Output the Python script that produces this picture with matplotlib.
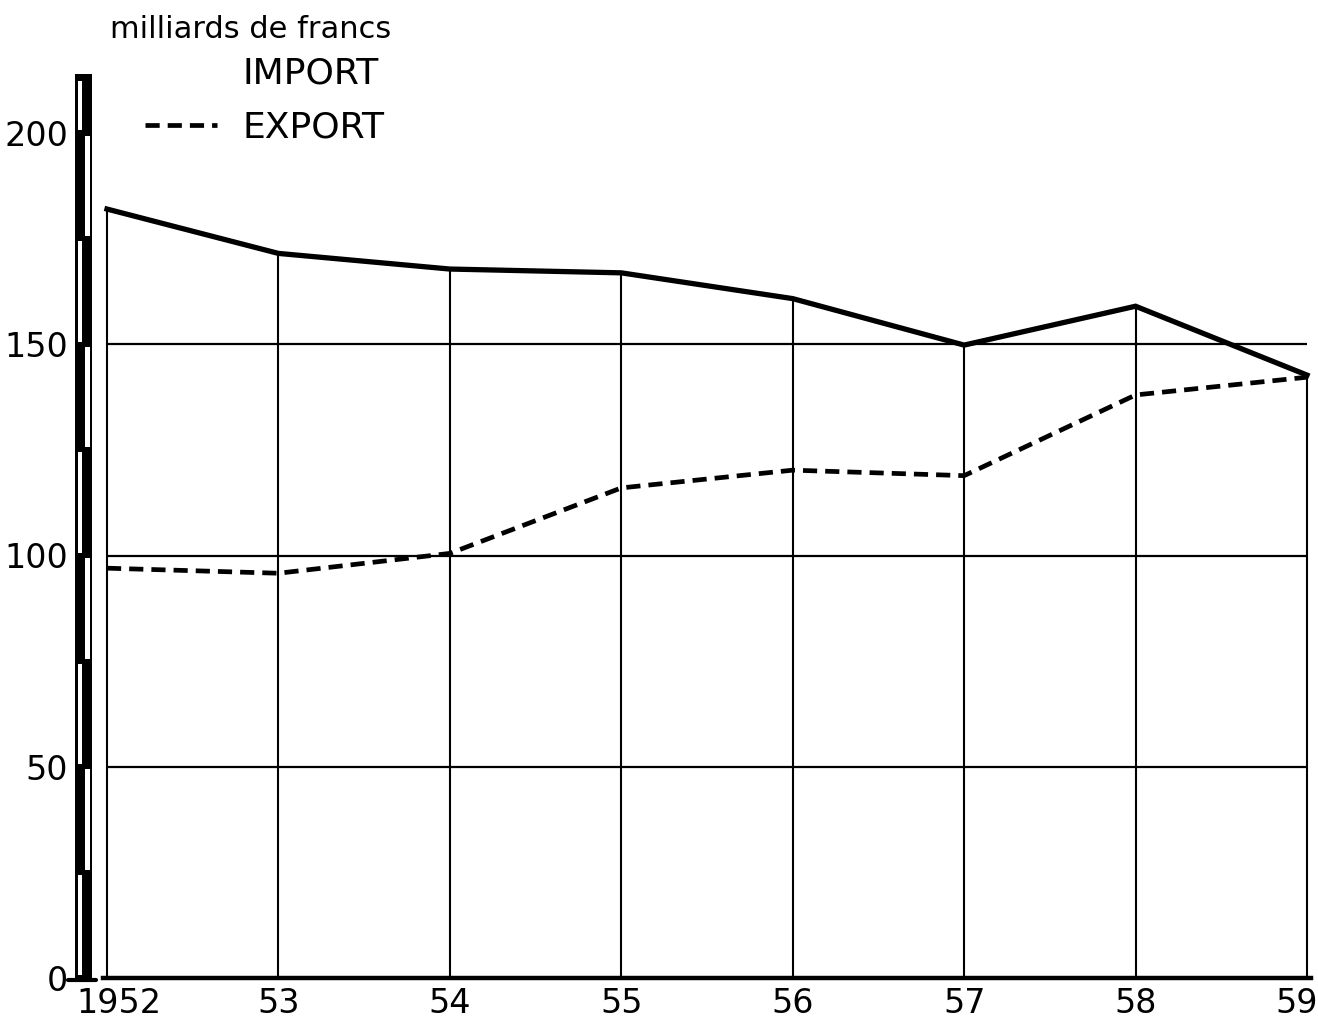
import matplotlib
matplotlib.use("Agg")
import matplotlib.pyplot as plt
from matplotlib.lines import Line2D
from matplotlib.patches import Rectangle
import matplotlib.transforms as mtransforms

# data (milliards de francs)
years = [1952, 1953, 1954, 1955, 1956, 1957, 1958, 1959]
year_labels = ["1952", "53", "54", "55", "56", "57", "58", "59"]
imports = [182.0, 171.5, 167.8, 166.9, 160.8, 149.8, 159.0, 142.7]
exports = [97.0, 95.8, 100.5, 116.0, 120.2, 118.9, 138.0, 142.2]
grid_levels = [50, 100, 150]
ytick_vals = [0, 50, 100, 150, 200]

W, H = 1318, 1019
fig = plt.figure(figsize=(W / 100, H / 100), dpi=100)
ax = fig.add_axes([107 / W, 41 / H, 1200 / W, 887.25 / H])
ax.set_xlim(1952, 1959)
ax.set_ylim(0, 210)
for s in ax.spines.values():
    s.set_visible(False)

# grid: verticals only up to the import curve
ax.vlines(years, 0, imports, color="black", lw=1.5, clip_on=False)
ax.hlines(grid_levels, years[0], years[-1], color="black", lw=1.6)
ax.axhline(0, xmin=-0.003, xmax=1.003, color="black", lw=3.2, clip_on=False)

ax.plot(years, imports, color="black", lw=3.8, solid_joinstyle="miter", clip_on=False)
ax.plot(years, exports, color="black", lw=3.4, linestyle=(0, (3.0, 1.7)), clip_on=False)

# scale bar on the left
tr = mtransforms.blended_transform_factory(ax.transAxes, ax.transData)
def px(x):
    return (x - 107) / 1200.0
ax.add_patch(Rectangle((px(75.5), -0.6), px(92.5) - px(75.5), 214.5, transform=tr,
                       color="black", clip_on=False, lw=0))
for lo in range(0, 225, 25):
    hi = min(lo + 25, 213.0)
    if (lo // 25) % 2 == 0:
        x0, x1 = px(78), px(82.5)      # left column white
    else:
        x0, x1 = px(85.5), px(90)      # right column white
    ax.add_patch(Rectangle((x0, lo + 0.6), x1 - x0, hi - lo - 1.2, transform=tr,
                           color="white", clip_on=False, lw=0))
ax.plot([px(68), px(96)], [-0.4, -0.4], transform=tr, color="black", lw=3,
        solid_capstyle="round", clip_on=False)

ax.set_yticks(ytick_vals)
ax.set_yticklabels([str(v) for v in ytick_vals], fontsize=24)
ax.tick_params(axis="y", length=0, pad=28)
ax.set_xticks(years)
ax.set_xticklabels(year_labels, fontsize=24)
ax.tick_params(axis="x", length=0, pad=6.5)
xl = ax.get_xticklabels()
xl[0].set_transform(xl[0].get_transform() + mtransforms.ScaledTranslation(0.12, 0, fig.dpi_scale_trans))
xl[-1].set_transform(xl[-1].get_transform() + mtransforms.ScaledTranslation(-0.10, 0, fig.dpi_scale_trans))

fig.text(110 / W, 1 - 38 / H, "milliards de francs", fontsize=22, va="baseline")

handles = [Line2D([], [], color="none"),
           Line2D([], [], color="black", lw=3.4, linestyle=(0, (3.0, 1.7)))]
ax.legend(handles, ["IMPORT", "EXPORT"], loc="upper left", frameon=False,
          bbox_to_anchor=(145 / W, 1 - 57 / H), bbox_transform=fig.transFigure,
          fontsize=26, handlelength=2.0, handletextpad=0.7, labelspacing=0.55,
          borderpad=0, borderaxespad=0)

fig.savefig("out.png", dpi=100)
